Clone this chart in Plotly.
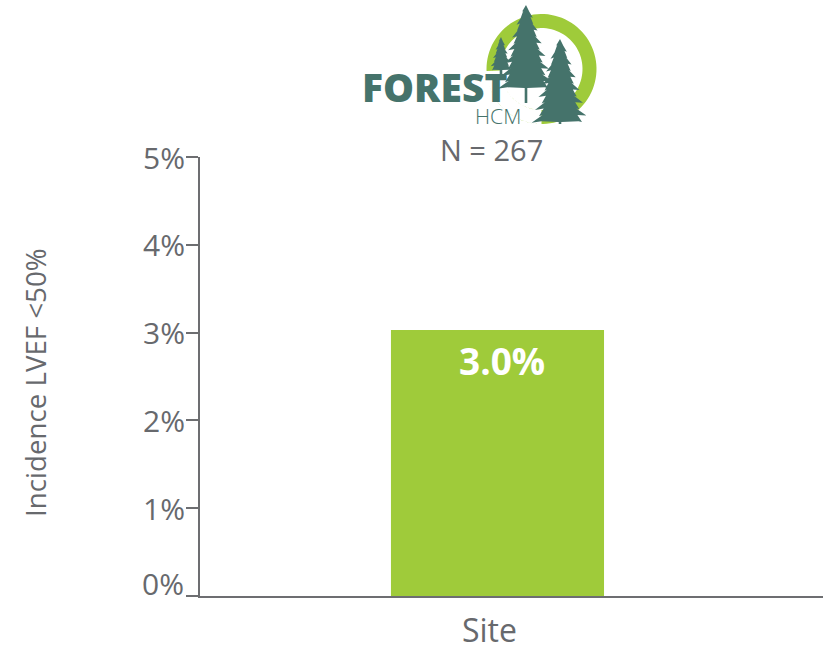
import math
import plotly.graph_objects as go

categories = ["Site"]
incidence = [3.03]
value_labels = ["3.0%"]
y_ticks = [0, 1, 2, 3, 4, 5]
y_tick_text = ["", "1%", "2%", "3%", "4%", "5%"]

W, H = 823, 646
L, R, T, B = 200, 0, 157, 50
GREY = "#67696d"
AXIS = "#6d6e71"
GREEN = "#9fcb3a"
TEAL = "#45736b"
FONT = "Open Sans"


def px(x):
    return (x - L) / (W - L - R)


def py(y):
    return (H - B - y) / (H - T - B)


def path(points):
    return "M" + " L".join(f"{px(x):.5f},{py(y):.5f}" for x, y in points) + " Z"


def ring(cx, cy, ro, ri, a0, a1, n=90):
    angles = [a0 + (a1 - a0) * i / n for i in range(n + 1)]
    outer = [(cx + ro * math.cos(a), cy + ro * math.sin(a)) for a in angles]
    inner = [(cx + ri * math.cos(a), cy + ri * math.sin(a)) for a in reversed(angles)]
    return path(outer + inner)


def tree(cx, top, bottom, half, tiers, trunk_end):
    """Jagged conifer silhouette: each tier flares out then steps back in."""
    left, right = [], []
    h = bottom - top
    for i in range(1, tiers + 1):
        f = i / tiers
        y = top + h * f
        w = half * (f ** 0.75)
        wob = 1 + 0.12 * ((-1) ** i)
        right += [(cx + w * wob, y), (cx + w * 0.74, y - h * 0.008)]
        left += [(cx - w / wob, y + h * 0.008), (cx - w * 0.74, y - h * 0.008)]
    pts = [(cx, top)] + right + [(cx + 1.3, bottom), (cx + 1.3, trunk_end),
                                 (cx - 1.3, trunk_end), (cx - 1.3, bottom)] + left[::-1]
    return path(pts)


fig = go.Figure(
    go.Bar(x=categories, y=incidence, marker=dict(color=GREEN, line=dict(width=0)), width=0.342)
)


def logo_shape(p, color):
    return dict(type="path", xref="paper", yref="paper", layer="above",
                line=dict(width=0), fillcolor=color, path=p)


shapes = [
    logo_shape(ring(541.5, 69, 55, 41, math.radians(178), math.radians(-270), 120), GREEN),
    logo_shape(tree(501, 37, 70, 10, 8, 74), TEAL),
    logo_shape(tree(526, 5, 88, 25, 13, 103), TEAL),
    logo_shape(tree(560, 39, 122, 25, 13, 124), TEAL),
]


def note(text, x, y, size, color, xanchor="center", angle=0, weight=400):
    return dict(text=text, x=px(x), y=py(y), xref="paper", yref="paper", showarrow=False,
                xanchor=xanchor, yanchor="middle", textangle=angle,
                font=dict(family=FONT, size=size, color=color, weight=weight))


annotations = [
    note("FOREST", 434, 87, 39, TEAL, weight=800),
    note("HCM", 498, 116, 21, TEAL, weight=300),
    note("N = 267", 491, 150, 29, GREY),
    note("0%", 186, 583, 30, GREY, xanchor="right"),
    note(value_labels[0], 501.5, 360, 37, "white", weight=700),
    note("Incidence LVEF <50%", 35, 383, 27.7, GREY, angle=-90),
]

fig.update_layout(
    width=W, height=H,
    autosize=False,
    margin=dict(l=L, r=R, t=T, b=B, pad=0),
    paper_bgcolor="white", plot_bgcolor="white",
    showlegend=False,
    shapes=shapes,
    annotations=annotations,
    font=dict(family=FONT, color=GREY),
    xaxis=dict(
        range=[-0.4775, 0.5225],
        automargin=False,
        showgrid=False, zeroline=False,
        showline=True, linecolor=AXIS, linewidth=2,
        ticks="", ticklabelstandoff=6, ticklabelshift=-8,
        tickfont=dict(family=FONT, size=32, color=GREY),
    ),
    yaxis=dict(
        range=[0, 5],
        automargin=False,
        tickmode="array", tickvals=y_ticks, ticktext=y_tick_text,
        showgrid=False, zeroline=False,
        showline=True, linecolor=AXIS, linewidth=2,
        ticks="outside", ticklen=12, tickwidth=2, tickcolor=AXIS,
        ticklabelstandoff=-5, ticklabelshift=1,
        tickfont=dict(family=FONT, size=30, color=GREY),
    ),
)

fig.write_html("out.html", config=dict(displayModeBar=False),
               post_script="document.body.style.margin='0';")
